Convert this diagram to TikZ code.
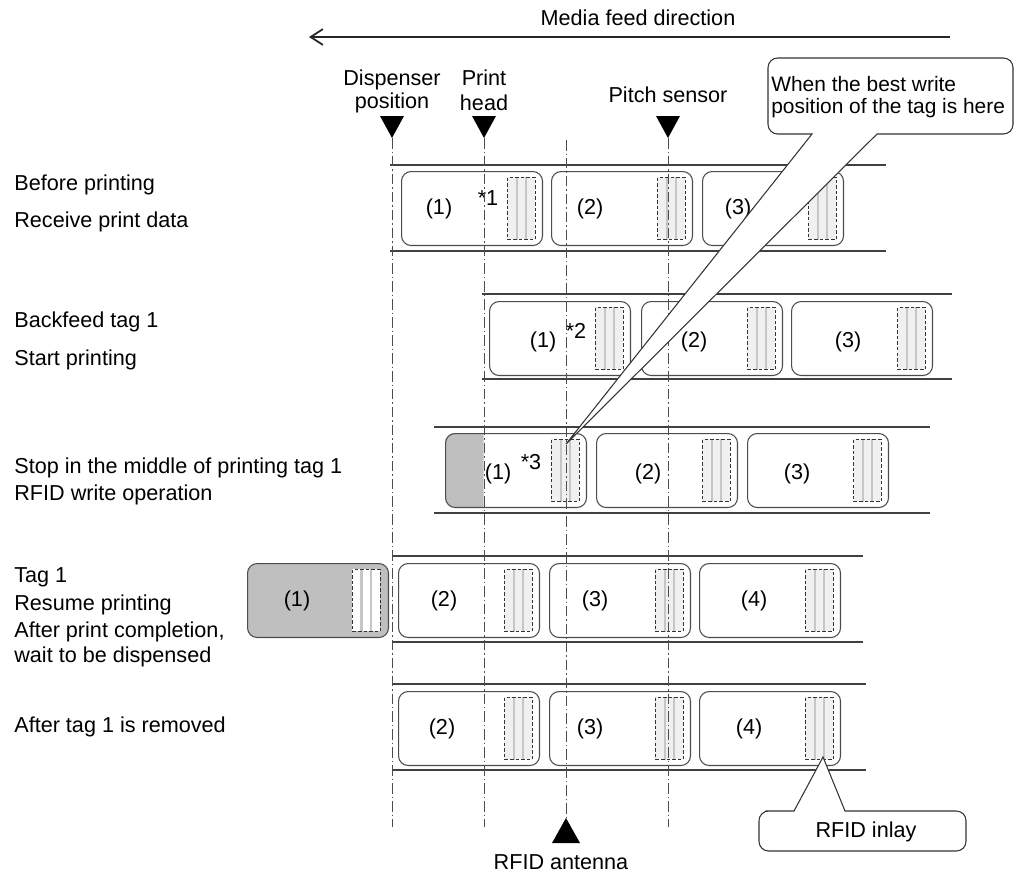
\documentclass[tikz,border=0pt]{standalone}
\usepackage{fontspec}
\setmainfont{Liberation Sans}
\usetikzlibrary{arrows.meta,calc}
\begin{document}
\begin{tikzpicture}[x=0.02cm,y=-0.02cm,
  font=\fontsize{12.3}{14}\selectfont,
  txt/.style={inner sep=0pt},
  lbl/.style={inner sep=0pt, anchor=west},
  tape/.style={line width=0.9pt, draw=black!75},
  tagbox/.style={draw=black!70, line width=0.6pt, rounded corners=5.5pt, minimum width=2.82cm, minimum height=1.48cm, inner sep=0pt, anchor=north west},
  graytag/.style={tagbox, fill=gray!50},
  inlaybox/.style={draw=black!80, line width=0.55pt, dash pattern=on 2pt off 1.2pt, fill=#1, minimum width=0.56cm, minimum height=1.24cm, inner sep=0pt, anchor=north west,
    path picture={\foreach \f in {0.33,0.67}{\draw[solid, gray!45, line width=1.4pt] ($(path picture bounding box.north west)!\f!(path picture bounding box.north east)$) -- ++(0,-2cm);}}},
  inlaybox/.default={gray!12},
  guide/.style={draw=black!70, line width=0.5pt, dash pattern=on 6pt off 1.7pt on 0.8pt off 1.7pt},
  marker/.style={fill=black, draw=none},
  callout/.style={draw=black!80, fill=white, line width=0.6pt},
  calltxt/.style={lbl, font=\fontsize{11.9}{14}\selectfont},
]
\fill[white] (0,0) rectangle (1016,875);
\useasboundingbox (0,0) rectangle (1016,875);

% ---------- header ----------
\node[txt] (feedtxt) at (638,18) {Media feed direction};
\coordinate (feedR) at (950,37);
\coordinate (feedL) at (309,37);
\draw[line width=1pt, black!85, -{Straight Barb[length=7pt,width=9pt,line width=1pt]}] (feedR) -- (feedL);

\node[txt] (disp1) at (392,80) {Dispenser};
\node[txt] (disp2) at (392,103) {position};
\node[txt] (head1) at (484,78) {Print};
\node[txt] (head2) at (484,103) {head};
\node[txt] (pitch) at (668,95) {Pitch sensor};

% guide coordinates
\coordinate (gDtop) at (392,138); \coordinate (gDbot) at (392,827);
\coordinate (gHtop) at (484,138); \coordinate (gHbot) at (484,827);
\coordinate (gAtop) at (566,140); \coordinate (gAbot) at (566,818);
\coordinate (gPtop) at (668,138); \coordinate (gPbot) at (668,827);

% ---------- row 3 partial grey ----------
\begin{scope}
  \clip (440,420) rectangle (483.5,520);
  \fill[gray!50, rounded corners=5.5pt] (445,433) rectangle (586,507);
\end{scope}

% ---------- tapes ----------
\draw[tape] (390,165) -- (886,165); \draw[tape] (390,251) -- (886,251);
\draw[tape] (482,294) -- (952,294); \draw[tape] (482,379) -- (952,379);
\draw[tape] (434,427) -- (930,427); \draw[tape] (434,513) -- (930,513);
\draw[tape] (392,556) -- (863,556); \draw[tape] (392,642) -- (863,642);
\draw[tape] (392,684) -- (866,684); \draw[tape] (392,770) -- (866,770);

% ---------- tags row 1 ----------
\node[tagbox] (r1a) at (401,171) {};
\node[tagbox] (r1b) at (551,171) {};
\node[tagbox] (r1c) at (702,171) {};
\node[inlaybox] (r1ai) at (507,177) {};
\node[inlaybox] (r1bi) at (657,177) {};
\node[inlaybox] (r1ci) at (808,177) {};
\node[txt] (r1al) at (439,209) {(1)};
\node[txt] (r1bl) at (590,209) {(2)};
\node[txt] (r1cl) at (738,209) {(3)};
\node[txt] (star1) at (488,198) {*1};

% ---------- tags row 2 ----------
\node[tagbox] (r2a) at (489,301) {};
\node[tagbox] (r2b) at (641,301) {};
\node[tagbox] (r2c) at (791,301) {};
\node[inlaybox] (r2ai) at (595,307) {};
\node[inlaybox] (r2bi) at (747,307) {};
\node[inlaybox] (r2ci) at (897,307) {};
\node[txt] (r2al) at (543,342) {(1)};
\node[txt] (r2bl) at (694,342) {(2)};
\node[txt] (r2cl) at (848,342) {(3)};
\node[txt] (star2) at (576,331) {*2};

% ---------- tags row 3 ----------
\node[tagbox] (r3a) at (445,433) {};
\node[tagbox] (r3b) at (596,433) {};
\node[tagbox] (r3c) at (747,433) {};
\node[inlaybox] (r3ai) at (551,439) {};
\node[inlaybox] (r3bi) at (702,439) {};
\node[inlaybox] (r3ci) at (853,439) {};
\node[txt] (r3al) at (498,474) {(1)};
\node[txt] (r3bl) at (648,474) {(2)};
\node[txt] (r3cl) at (797,474) {(3)};
\node[txt] (star3) at (531,462) {*3};

% ---------- tags row 4 ----------
\node[graytag] (r4a) at (247,563) {};
\node[tagbox] (r4b) at (398,563) {};
\node[tagbox] (r4c) at (549,563) {};
\node[tagbox] (r4d) at (699,563) {};
\node[inlaybox=white] (r4ai) at (352,569) {};
\node[inlaybox] (r4bi) at (504,569) {};
\node[inlaybox] (r4ci) at (655,569) {};
\node[inlaybox] (r4di) at (805,569) {};
\node[txt] (r4al) at (297,601) {(1)};
\node[txt] (r4bl) at (444,601) {(2)};
\node[txt] (r4cl) at (595,601) {(3)};
\node[txt] (r4dl) at (754,601) {(4)};

% ---------- tags row 5 ----------
\node[tagbox] (r5b) at (398,691) {};
\node[tagbox] (r5c) at (549,691) {};
\node[tagbox] (r5d) at (699,691) {};
\node[inlaybox] (r5bi) at (504,697) {};
\node[inlaybox] (r5ci) at (655,697) {};
\node[inlaybox] (r5di) at (805,697) {};
\node[txt] (r5bl) at (442,729) {(2)};
\node[txt] (r5cl) at (590,729) {(3)};
\node[txt] (r5dl) at (749,729) {(4)};

% ---------- guides and markers ----------
\draw[guide] (gDtop) -- (gDbot);
\draw[guide] (gHtop) -- (gHbot);
\draw[guide] (gAtop) -- (gAbot);
\draw[guide] (gPtop) -- (gPbot);
\fill[marker] (380,116) -- (404,116) -- (gDtop) -- cycle;
\fill[marker] (472,116) -- (496,116) -- (gHtop) -- cycle;
\fill[marker] (656,116) -- (680,116) -- (gPtop) -- cycle;
\fill[marker] (gAbot) -- (580,843) -- (552,843) -- cycle;
\node[txt] (antenna) at (561,862) {RFID antenna};

% ---------- left labels ----------
\node[lbl] (l1a) at (14,185) {Before printing};
\node[lbl] (l1b) at (14,222) {Receive print data};
\node[lbl] (l2a) at (14,322) {Backfeed tag 1};
\node[lbl] (l2b) at (14,360) {Start printing};
\node[lbl] (l3a) at (14,468) {Stop in the middle of printing tag 1};
\node[lbl] (l3b) at (14,495) {RFID write operation};
\node[lbl] (l4a) at (14,577) {Tag 1};
\node[lbl] (l4b) at (14,605) {Resume printing};
\node[lbl] (l4c) at (14,632) {After print completion,};
\node[lbl] (l4d) at (14,657) {wait to be dispensed};
\node[lbl] (l5a) at (14,727) {After tag 1 is removed};

% ---------- callouts ----------
\coordinate (tipBest) at (566,444);
\draw[callout] (812,134) -- (tipBest) -- (877,134) -- (900,134) [rounded corners=5.5pt] -- (1013,134) -- (1013,58) -- (768,58) -- (768,134) -- (790,134) [sharp corners] -- cycle;
\node[calltxt] (best1) at (771,84) {When the best write};
\node[calltxt] (best2) at (771,108) {position of the tag is here};

\coordinate (tipInlay) at (823,757);
\draw[callout] (794,811) -- (tipInlay) -- (845,811) -- (870,811) [rounded corners=5.5pt] -- (966,811) -- (966,851) -- (759,851) -- (759,811) -- (775,811) [sharp corners] -- cycle;
\node[txt] (inlaytxt) at (866,832) {RFID inlay};
\end{tikzpicture}
\end{document}
